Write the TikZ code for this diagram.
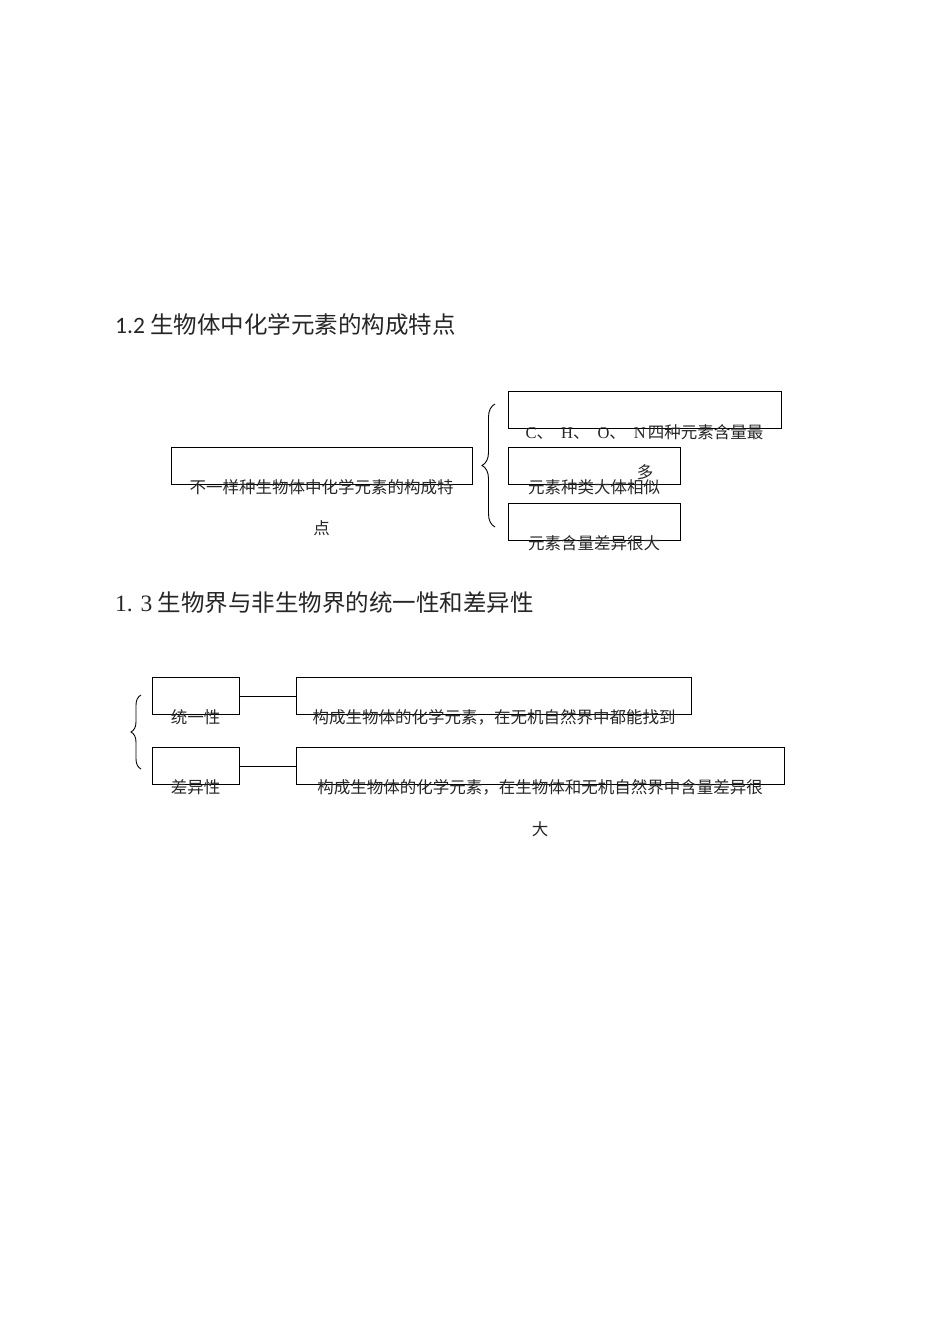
\documentclass[tikz,border=0pt]{standalone}
\usepackage{fontspec}
\newfontfamily\cjk{Noto Sans CJK SC}
\newfontfamily\lat{Liberation Serif}
\newfontfamily\hlat{Carlito}
\usetikzlibrary{decorations.pathreplacing}
\begin{document}
\begin{tikzpicture}[x=1pt,y=-1pt,
  box/.style={draw, line width=1pt, inner sep=0pt, anchor=north west, minimum height=37pt},
  txt/.style={font=\cjk\fontsize{16.5}{20}\selectfont, inner sep=0pt, text=black!85},
  hd/.style={font=\cjk\fontsize{23.5}{28}\selectfont, inner sep=0pt, anchor=west, text=black!85},
  bracestyle/.style={decorate, line width=0.9pt},
  link/.style={line width=1pt}]
\useasboundingbox (0,0) rectangle (950,1344);
% headings
\node[hd] (h1) at (115,325) {{\hlat 1.2} 生物体中化学元素的构成特点};
\node[hd] (h2) at (115,603) {{\lat 1. 3} 生物界与非生物界的统一性和差异性};
% section 1.2 boxes
\node[box, minimum width=301pt] (k1) at (171,447) {};
\node[box, minimum width=273pt] (c1) at (508,391) {};
\node[box, minimum width=172pt] (c2) at (508,447) {};
\node[box, minimum width=172pt] (c3) at (508,503) {};
\node[txt] (k1a) at (321.5,487) {不一样种生物体中化学元素的构成特};
\node[txt] (k1b) at (321.5,528) {点};
\node[txt] (c1a) at (644.5,432) {{\lat C}、\hspace{8pt}{\lat H}、\hspace{8pt}{\lat O}、\hspace{8pt}{\lat N}\hspace{2pt}四种元素含量最};
\node[txt] (c1b) at (645,472) {多};
\node[txt] (c2a) at (594,487) {元素种类大体相似};
\node[txt] (c3a) at (594,543) {元素含量差异很大};
\coordinate (br1s) at (495,527);
\coordinate (br1e) at (495,404);
\draw[bracestyle, decoration={brace, amplitude=13pt}] (br1s) -- (br1e);
% section 1.3
\node[box, minimum width=87pt] (u1) at (152,677) {};
\node[box, minimum width=395pt] (u2) at (296,677) {};
\node[box, minimum width=87pt] (d1) at (152,747) {};
\node[box, minimum width=488pt] (d2) at (296,747) {};
\draw[link] (u1.east) -- (u2.west);
\draw[link] (d1.east) -- (d2.west);
\node[txt] (u1a) at (195.5,717) {统一性};
\node[txt] (u2a) at (494,717) {构成生物体的化学元素，在无机自然界中都能找到};
\node[txt] (d1a) at (195.5,787) {差异性};
\node[txt] (d2a) at (540,787) {构成生物体的化学元素，在生物体和无机自然界中含量差异很};
\node[txt] (d2b) at (540,829) {大};
\coordinate (br2s) at (141,769);
\coordinate (br2e) at (141,695);
\draw[bracestyle, decoration={brace, amplitude=10pt}] (br2s) -- (br2e);
\end{tikzpicture}
\end{document}
